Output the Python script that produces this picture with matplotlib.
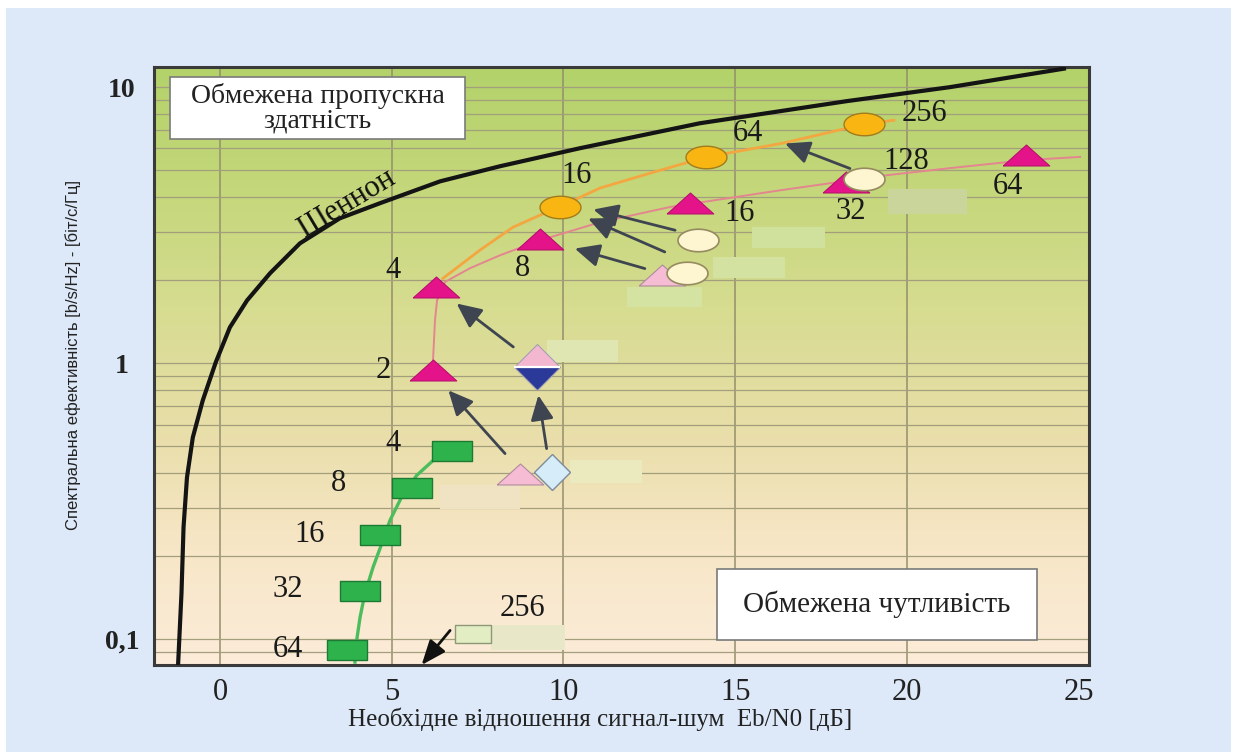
import matplotlib
matplotlib.use("Agg")
import matplotlib.pyplot as plt
import numpy as np
from matplotlib.colors import LinearSegmentedColormap
from matplotlib.patches import Rectangle
from matplotlib.ticker import FixedLocator, LogLocator, NullFormatter

SERIF = ["Liberation Serif", "DejaVu Serif"]
NARROW = ["Liberation Sans Narrow", "Liberation Sans", "DejaVu Sans"]

# --- data (Eb/N0 in dB, spectral efficiency in b/s/Hz) ---
shannon_x = [-1.22, -1.12, -1.06, -0.96, -0.79, -0.50, -0.12, 0.29, 0.79, 1.46,
             2.33, 3.49, 4.66, 6.41, 8.15, 10.48, 13.97, 18.25, 21.25, 24.63]
shannon_y = [0.0805, 0.147, 0.255, 0.386, 0.539, 0.734, 1.01, 1.35, 1.69, 2.12,
             2.72, 3.35, 3.80, 4.56, 5.17, 6.01, 7.40, 8.90, 10.0, 11.7]

psk_curve_x = [6.20, 6.26, 6.32, 6.55, 7.28, 8.15, 9.32, 11.06, 13.10, 16.30, 19.42, 21.25, 23.46, 25.04]
psk_curve_y = [1.008, 1.43, 1.69, 1.97, 2.21, 2.46, 2.79, 3.24, 3.68, 4.23, 4.80, 5.09, 5.44, 5.59]

qam_curve_x = [6.49, 7.57, 8.53, 9.32, 9.90, 11.06, 12.52, 14.15, 16.39, 18.75, 19.62]
qam_curve_y = [2.03, 2.57, 3.11, 3.44, 3.69, 4.31, 4.88, 5.58, 6.27, 7.34, 7.59]

fsk_curve_x = [6.19, 5.73, 5.29, 4.95, 4.71, 4.46, 4.22, 4.08, 3.98, 3.93]
fsk_curve_y = [0.443, 0.393, 0.328, 0.270, 0.222, 0.183, 0.1465, 0.1205, 0.0992, 0.0828]

fsk_x = [6.75, 5.58, 4.66, 4.08, 3.69]
fsk_y = [0.481, 0.353, 0.238, 0.150, 0.0912]

psk_x = [6.21, 6.29, 9.32, 13.68, 18.24, 23.48]
psk_y = [0.943, 1.886, 2.83, 3.80, 4.55, 5.70]

qam_x = [9.90, 14.15, 18.76]
qam_y = [3.685, 5.59, 7.33]

cream_x = [13.59, 13.92, 18.76]
cream_y = [2.13, 2.79, 4.64]

pink_tri_x = [8.73, 12.86]
pink_tri_y = [0.398, 2.08]

blue_dia_x = [9.66]
blue_dia_y = [0.404]

split_dia_x = [9.22]
split_dia_y = [0.967]

pale_sq_x = [7.36]
pale_sq_y = [0.105]

# order-number labels
lab_text = ["4", "8", "16", "32", "64",
            "2", "4", "8", "16", "32", "64",
            "16", "64", "256", "128", "256"]
lab_x = [5.04, 3.46, 2.62, 1.98, 1.98,
         4.75, 5.04, 8.82, 15.14, 18.37, 22.94,
         10.39, 15.37, 20.52, 19.99, 8.82]
lab_y = [0.513, 0.367, 0.240, 0.152, 0.092,
         0.943, 2.17, 2.21, 3.50, 3.55, 4.38,
         4.80, 6.81, 8.05, 5.36, 0.1295]

# arrows: tail -> head
arr_tail_x = [8.30, 9.51, 8.54, 12.37, 12.95, 13.25, 18.34]
arr_tail_y = [0.471, 0.491, 1.146, 2.203, 2.531, 3.033, 5.075]
arr_head_x = [6.65, 9.27, 6.89, 10.33, 10.72, 10.87, 16.45]
arr_head_y = [0.798, 0.766, 1.646, 2.603, 3.344, 3.605, 6.25]

# blanked label patches (xmin, xmax, ymin, ymax, colour)
blanks = [
    (9.51, 11.60, 1.011, 1.212, "#e0e6b2"),
    (10.19, 12.28, 0.368, 0.445, "#ebe9be"),
    (6.40, 8.73, 0.2976, 0.3613, "#efe3c4"),
    (7.88, 10.04, 0.0917, 0.1125, "#e8e8c8"),
    (19.46, 21.74, 3.487, 4.26, "#c9d59b"),
    (15.48, 17.61, 2.617, 3.117, "#cfe19c"),
    (14.36, 16.45, 2.037, 2.426, "#d3e2a0"),
    (11.84, 14.02, 1.599, 1.891, "#d4e3a2"),
]

# custom marker shapes
RECT = [(-1, -0.49), (1, -0.49), (1, 0.49), (-1, 0.49), (-1, -0.49)]
TRI = [(-1, -0.45), (1, -0.45), (0, 0.45), (-1, -0.45)]
_t = np.linspace(0, 2 * np.pi, 64)
ELL = list(zip(np.cos(_t), 0.55 * np.sin(_t)))

fig = plt.figure(figsize=(12.37, 7.52), dpi=100, facecolor="white")
fig.patches.append(Rectangle((6 / 1237, 0), 1 - 12 / 1237, 1 - 8 / 752,
                             transform=fig.transFigure, facecolor="#dde9f9",
                             edgecolor="none", zorder=-10))
pos = [154 / 1237, 1 - 665 / 752, (1089 - 154) / 1237, (665 - 67) / 752]

# gradient background
bg = fig.add_axes(pos, zorder=0)
cmap = LinearSegmentedColormap.from_list(
    "bg", ["#fcecd9", "#f7e6c6", "#e8dea8", "#d6dc90", "#c4d77a", "#b3d26a"])
bg.imshow(np.linspace(0, 1, 256).reshape(-1, 1), cmap=cmap, aspect="auto",
          origin="lower", extent=[0, 1, 0, 1])
bg.axis("off")

ax = fig.add_axes(pos, zorder=1)
ax.set_facecolor("none")
ax.set_yscale("log")
ax.set_xlim(-1.92, 25.3)
ax.set_ylim(0.0808, 11.83)

# grid
ax.yaxis.set_major_locator(FixedLocator([0.1, 1, 10]))
ax.yaxis.set_minor_locator(LogLocator(subs=np.arange(2, 10)))
ax.yaxis.set_minor_formatter(NullFormatter())
ax.grid(True, which="both", axis="y", color="#a39f7c", lw=0.9, zorder=1)
for gx in [0, 5, 10, 15, 20]:
    ax.axvline(gx, color="#948f6c", lw=1.1, zorder=1)

ax.set_xticks([0, 5, 10, 15, 20, 25])
ax.set_yticklabels(["0,1", "1", "10"], fontfamily=SERIF, fontsize=20, fontweight="bold")
ax.set_xticklabels(["0", "5", "10", "15", "20", "25"], fontfamily=SERIF, fontsize=22)
ax.tick_params(axis="both", which="both", length=0)
ax.tick_params(axis="x", pad=9, colors="#222222")
ax.tick_params(axis="y", pad=23, colors="#222222")
for lbl in ax.get_yticklabels():
    lbl.set_horizontalalignment("center")
for sp in ax.spines.values():
    sp.set_color("#3a3a3a")
    sp.set_linewidth(2.2)

# blanked patches
for x0, x1, y0, y1, c in blanks:
    ax.add_patch(Rectangle((x0, y0), x1 - x0, y1 - y0, facecolor=c, edgecolor="none", zorder=2))

# curves
ax.plot(shannon_x, shannon_y, color="#141414", lw=3.0, zorder=3, solid_capstyle="butt")
ax.plot(fsk_curve_x, fsk_curve_y, color="#4cbd5c", lw=2.4, zorder=3)
ax.plot(psk_curve_x, psk_curve_y, color="#e3868f", lw=1.4, zorder=3)
ax.plot(qam_curve_x, qam_curve_y, color="#f4a640", lw=2.0, zorder=3)

# markers
ax.plot(fsk_x, fsk_y, ls="none", marker=RECT, ms=29.5, mfc="#2eb24b", mec="#1d7a35", mew=1.0, zorder=5)
ax.plot(psk_x, psk_y, ls="none", marker=TRI, ms=33.5, mfc="#e4138a", mec="#b80f6c", mew=0.8, zorder=5)
ax.plot(qam_x, qam_y, ls="none", marker=ELL, ms=29.5, mfc="#f9b512", mec="#a07c1c", mew=1.0, zorder=5)
ax.plot(pink_tri_x, pink_tri_y, ls="none", marker=TRI, ms=33.5, mfc="#f5bcd4", mec="#b08a9e", mew=0.8, zorder=5)
ax.plot(cream_x, cream_y, ls="none", marker=ELL, ms=29.5, mfc="#fdf6d0", mec="#958a60", mew=1.2, zorder=6)
ax.plot(blue_dia_x, blue_dia_y, ls="none", marker="D", ms=18.5, mfc="#d7ecf9", mec="#7c8c9c", mew=1.0, zorder=6)
ax.plot(split_dia_x, split_dia_y, ls="none", marker="D", ms=23.5, fillstyle="top",
        mfc="#f3b8d0", mfcalt="#2b3a98", mec="#a4a0b4", mew=0.8, zorder=6)
ax.plot(split_dia_x, split_dia_y, ls="none", marker="_", ms=33, mec="white", mew=1.6, zorder=6.5)
ax.plot(pale_sq_x, pale_sq_y, ls="none", marker=RECT, ms=26, mfc="#e3edc4", mec="#8c9878", mew=1.0, zorder=5)

# arrows
for tx, ty, hx, hy in zip(arr_tail_x, arr_tail_y, arr_head_x, arr_head_y):
    ax.annotate("", xy=(hx, hy), xytext=(tx, ty),
                arrowprops=dict(arrowstyle="-|>,head_length=0.75,head_width=0.35",
                                color="#3e4550", lw=2.0, shrinkA=0, shrinkB=0,
                                mutation_scale=20), zorder=7)
ax.annotate("", xy=(5.87, 0.0808), xytext=(6.70, 0.1078),
            arrowprops=dict(arrowstyle="-|>,head_length=0.75,head_width=0.3",
                            color="#111111", lw=2.0, shrinkA=0, shrinkB=0,
                            mutation_scale=20), zorder=7, annotation_clip=False)

# order labels
for t, lx, ly in zip(lab_text, lab_x, lab_y):
    ax.text(lx, ly, t, fontfamily=SERIF, fontsize=22, ha="center", va="center",
            color="#1a1a1a", zorder=8)

# Shannon label
ax.text(3.7, 3.8, "Шеннон", fontfamily=SERIF, fontsize=22, rotation=31,
        rotation_mode="anchor", ha="center", va="center", color="#111111", zorder=8)

# region boxes
ax.add_patch(Rectangle((0.0171, 0.8796), 0.3155, 0.1034, transform=ax.transAxes,
                       facecolor="white", edgecolor="#7a7a7a", lw=1.2, zorder=8))
ax.text(0.175, 0.9313, "Обмежена пропускна\nздатність", transform=ax.transAxes,
        fontfamily=SERIF, fontsize=20, ha="center", va="center", linespacing=1.0,
        color="#222222", zorder=9)
ax.add_patch(Rectangle((0.602, 0.0418), 0.342, 0.1187, transform=ax.transAxes,
                       facecolor="white", edgecolor="#7a7a7a", lw=1.2, zorder=8))
ax.text(0.773, 0.1012, "Обмежена чутливість", transform=ax.transAxes,
        fontfamily=SERIF, fontsize=21, ha="center", va="center", color="#222222", zorder=9)

# axis titles
fig.text(600 / 1237, 1 - 719 / 752, "Необхідне відношення сигнал-шум  Eb/N0 [дБ]",
         fontfamily=SERIF, fontsize=18, ha="center", va="center", color="#222222")
fig.text(73 / 1237, 1 - 355 / 752, "Спектральна ефективність [b/s/Hz] - [біт/с/Гц]",
         fontfamily=NARROW, fontsize=12, rotation=90, ha="center", va="center", color="#222222")

fig.savefig("out.png", dpi=100)
